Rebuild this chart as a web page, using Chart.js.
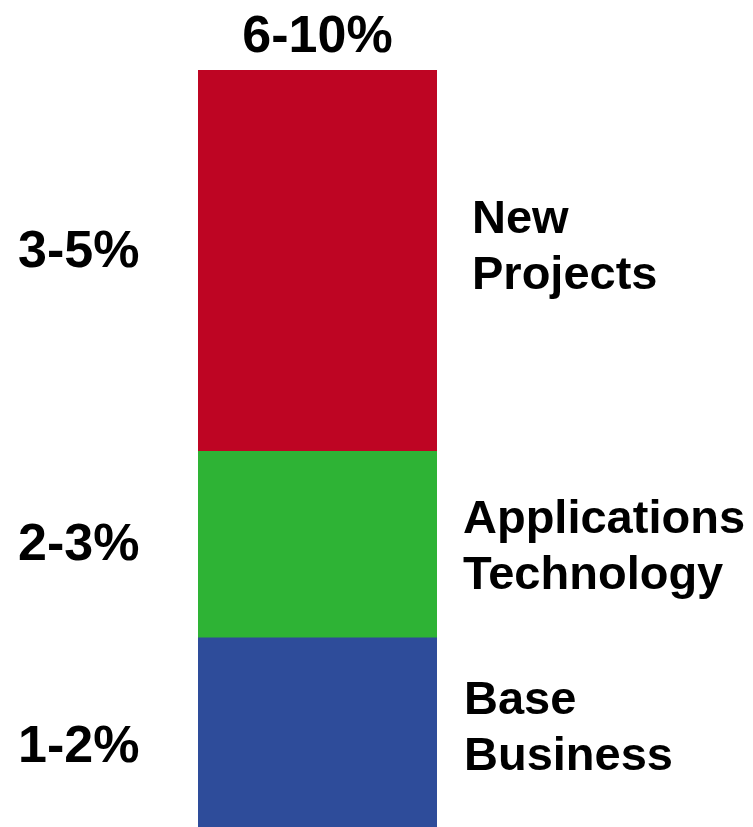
<!DOCTYPE html>
<html>
<head>
<meta charset="utf-8">
<title>Stacked bar</title>
<script src="https://cdn.jsdelivr.net/npm/chart.js@4/dist/chart.umd.min.js"></script>
<style>
	html, body { margin: 0; padding: 0; background: #fff; }
	#wrap { width: 753px; height: 827px; position: relative; }
</style>
</head>
<body>
<div id="wrap"><canvas id="chart"></canvas></div>
<script>
// segments, bottom to top
const segments = ['Base Business', 'Applications Technology', 'New Projects'];
const segmentLines = [['Base', 'Business'], ['Applications', 'Technology'], ['New', 'Projects']];
const segmentValues = [2.0, 1.97, 4.03];
const rangeLabels = ['1-2%', '2-3%', '3-5%'];
const totalLabel = '6-10%';
const segmentColors = ['#2e4c9a', '#2eb335', '#be0523'];

const font = '"Liberation Sans", Arial, sans-serif';
// small per-label nudges so text sits where it does in the picture
const leftNudge = [30, 15, 6];
const rightNudge = [-18, -12, -28];
const rightShift = [1, 0, 9];
const lineHeight = 56;

const labelPlugin = {
	id: 'segmentLabels',
	afterDatasetsDraw(chart) {
		const ctx = chart.ctx;
		ctx.save();
		ctx.fillStyle = '#000';
		ctx.textBaseline = 'alphabetic';
		let top = Infinity;
		let centerX = 0;
		chart.data.datasets.forEach((ds, i) => {
			const bar = chart.getDatasetMeta(i).data[0];
			const mid = (bar.y + bar.base) / 2;
			top = Math.min(top, bar.y);
			centerX = bar.x;

			ctx.font = `bold 52px ${font}`;
			ctx.textAlign = 'left';
			ctx.fillText(rangeLabels[i], 18, mid + leftNudge[i]);

			ctx.font = `bold 47px ${font}`;
			const right = bar.x + bar.width / 2 + 26 + rightShift[i];
			segmentLines[i].forEach((line, j) => {
				ctx.fillText(line, right, mid + rightNudge[i] + j * lineHeight);
			});
		});
		ctx.font = `bold 52px ${font}`;
		ctx.textAlign = 'center';
		ctx.fillText(totalLabel, centerX, top - 18);
		ctx.restore();
	},
};

const total = segmentValues.reduce((a, b) => a + b, 0);

/* eslint-disable no-unused-vars */
const chart = new Chart(document.getElementById('chart').getContext('2d'), {
	type: 'bar',
	data: {
		labels: [''],
		datasets: segments.map((name, i) => ({
			label: name,
			data: [segmentValues[i]],
			backgroundColor: segmentColors[i],
			borderWidth: 0,
			barPercentage: 1,
			categoryPercentage: 1,
		})),
	},
	options: {
		responsive: true,
		maintainAspectRatio: false,
		animation: false,
		layout: {
			padding: { left: 198, right: 316, top: 70, bottom: 0 },
		},
		scales: {
			x: { stacked: true, display: false },
			y: { stacked: true, display: false, min: 0, max: total },
		},
		plugins: {
			legend: { display: false },
			tooltip: { enabled: false },
		},
	},
	plugins: [labelPlugin],
});
</script>
</body>
</html>
